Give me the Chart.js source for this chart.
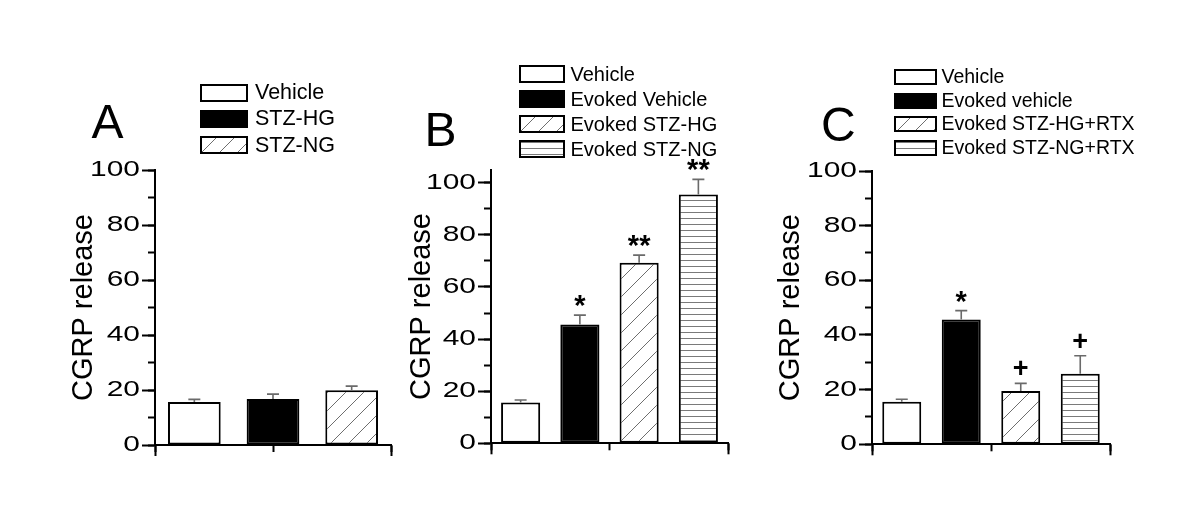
<!DOCTYPE html>
<html><head><meta charset="utf-8">
<script src="https://cdn.jsdelivr.net/npm/chart.js@4.4.1/dist/chart.umd.min.js"></script>
<style>
html,body{margin:0;padding:0;background:#fff;}
#wrap{position:relative;width:1200px;height:523px;overflow:hidden;background:#fff;}
canvas.c{position:absolute;left:0;top:0;}
.letter{position:absolute;font-family:"Liberation Sans",Arial,sans-serif;font-size:48px;line-height:1;color:#000;}
.legtext{position:absolute;font-family:"Liberation Sans",Arial,sans-serif;color:#000;white-space:nowrap;line-height:1;}
.sw{position:absolute;}
</style></head><body><div id="wrap"></div>
<script>
// ---------------- data ----------------
const panelLetters = ['A', 'B', 'C'];
const yAxisTitle = 'CGRP release';

const categoriesA = ['Vehicle', 'STZ-HG', 'STZ-NG'];
const valuesA = [15.6, 16.7, 19.9];
const errorsA = [1.0, 1.8, 1.5];
const marksA = ['', '', ''];

const categoriesB = ['Vehicle', 'Evoked Vehicle', 'Evoked STZ-HG', 'Evoked STZ-NG'];
const valuesB = [15.7, 45.6, 69.3, 95.5];
const errorsB = [0.9, 3.6, 2.9, 5.8];
const marksB = ['', '*', '**', '**'];

const categoriesC = ['Vehicle', 'Evoked vehicle', 'Evoked STZ-HG+RTX', 'Evoked STZ-NG+RTX'];
const valuesC = [15.6, 45.7, 19.5, 25.8];
const errorsC = [0.9, 3.2, 2.8, 6.6];
const marksC = ['', '*', '+', '+'];

// ---------------- styles / layout ----------------
const FILLS = ['white', 'black', 'hatch', 'stripe'];
const FONT = '"Liberation Sans", Arial, sans-serif';

function makeFill(ctx, kind) {
  if (kind === 'white') return '#ffffff';
  if (kind === 'black') return '#000000';
  const c = document.createElement('canvas');
  const g = c.getContext('2d');
  if (kind === 'hatch') {
    const s = 18; c.width = s; c.height = s;
    g.fillStyle = '#fff'; g.fillRect(0, 0, s, s);
    g.strokeStyle = '#6e6e6e'; g.lineWidth = 1;
    g.beginPath();
    g.moveTo(-2, s + 2); g.lineTo(s + 2, -2);
    g.moveTo(-2, 2); g.lineTo(2, -2);
    g.moveTo(s - 2, s + 2); g.lineTo(s + 2, s - 2);
    g.stroke();
  } else {
    c.width = 8; c.height = 6;
    g.fillStyle = '#fff'; g.fillRect(0, 0, 8, 6);
    g.fillStyle = '#7a7a7a'; g.fillRect(0, 2, 8, 1);
  }
  return ctx.createPattern(c, 'repeat');
}

const errPlugin = {
  id: 'err',
  afterDatasetsDraw(chart, args, opts) {
    const ctx = chart.ctx;
    const ys = chart.scales.y;
    ctx.save();
    opts.values.forEach((v, i) => {
      const bar = chart.getDatasetMeta(i).data[i];
      const x = bar.x;
      const y0 = ys.getPixelForValue(v);
      const y1 = ys.getPixelForValue(v + opts.errors[i]);
      ctx.strokeStyle = '#6a6a6a'; ctx.lineWidth = 1.6;
      ctx.beginPath();
      ctx.moveTo(x, y0); ctx.lineTo(x, y1);
      ctx.moveTo(x - 6, y1); ctx.lineTo(x + 6, y1);
      ctx.stroke();
      const m = opts.marks[i];
      if (m) {
        const size = m.indexOf('+') >= 0 ? 27 : 29;
        ctx.font = 'bold ' + size + 'px ' + FONT;
        ctx.fillStyle = '#000'; ctx.textAlign = 'center'; ctx.textBaseline = 'alphabetic';
        const mt = ctx.measureText(m);
        const baseline = y1 - 8 - mt.actualBoundingBoxDescent;
        ctx.fillText(m, x, baseline);
      }
    });
    ctx.restore();
    // widen tick labels (drawn in a later layer) horizontally around their right edge
    const x0 = ys.right - ys.options.grid.tickLength - ys.options.ticks.padding;
    ctx.save();
    ctx.translate(x0, 0); ctx.scale(opts.stretch, 1); ctx.translate(-x0, 0);
  },
  afterDraw(chart) { chart.ctx.restore(); }
};

const wrap = document.getElementById('wrap');

function buildPanel(p) {
  const canvas = document.createElement('canvas');
  canvas.width = 1200; canvas.height = 523; canvas.className = 'c';
  wrap.appendChild(canvas);
  const ctx = canvas.getContext('2d');
  const datasets = p.categories.map((lab, i) => ({
    label: lab,
    data: p.values.map((v, j) => (j === i ? v : null)),
    backgroundColor: makeFill(ctx, FILLS[i]),
    borderColor: '#000', borderWidth: 2, borderSkipped: false,
    barPercentage: p.barPct, categoryPercentage: 1, grouped: false
  }));
  const chart = new Chart(ctx, {
    type: 'bar',
    data: { labels: p.categories, datasets },
    options: {
      responsive: false, animation: false, events: [], devicePixelRatio: 1,
      layout: { padding: p.pad },
      plugins: {
        legend: { display: false }, tooltip: { enabled: false },
        err: { values: p.values, errors: p.errors, marks: p.marks, stretch: 1.36 }
      },
      scales: {
        x: { type: 'category', display: false, offset: true },
        xMajor: {
          type: 'linear', position: 'bottom', min: 0, max: 1, weight: 0,
          afterBuildTicks(s) { s.ticks = [{ value: 0.5 }]; },
          ticks: { display: false },
          grid: { drawOnChartArea: false, tickLength: 11, tickWidth: 2, tickColor: '#000' },
          border: { display: true, color: '#000', width: 2 },
          afterFit(s) { s.height = 0; }
        },
        xEnds: {
          type: 'linear', position: 'bottom', min: 0, max: 1, weight: 1,
          afterBuildTicks(s) { s.ticks = [{ value: 0 }, { value: 1 }]; },
          ticks: { display: false },
          grid: { drawOnChartArea: false, tickLength: 7, tickWidth: 2, tickColor: '#000' },
          border: { display: false },
          afterFit(s) { s.height = 0; }
        },
        y: {
          type: 'linear', position: 'left', weight: 1, min: 0, max: p.yMax,
          ticks: { stepSize: 20, includeBounds: false, font: { family: FONT, size: 22 }, color: '#000', padding: 2, z: 1 },
          grid: { drawOnChartArea: false, tickLength: 13, tickWidth: 2, tickColor: '#000' },
          border: { display: true, color: '#000', width: 2 },
          title: { display: true, text: yAxisTitle, font: { family: FONT, size: 29 }, color: '#000', padding: 0 },
          afterFit(s) { s.width = p.yWidth; }
        },
        yMinor: {
          type: 'linear', position: 'left', weight: 0, min: 0, max: p.yMax,
          ticks: { display: false, stepSize: 10, includeBounds: false },
          grid: { drawOnChartArea: false, tickLength: 7, tickWidth: 2, tickColor: '#000' },
          border: { display: false },
          afterFit(s) { s.width = 0; }
        }
      }
    },
    plugins: [errPlugin]
  });

  // legend (HTML, built from the chart's datasets)
  chart.data.datasets.forEach((ds, i) => {
    const cy = p.leg.cy0 + i * p.leg.dy;
    const sw = document.createElement('canvas');
    sw.className = 'sw'; sw.width = p.leg.w; sw.height = p.leg.h;
    sw.style.left = p.leg.x + 'px'; sw.style.top = (cy - p.leg.h / 2) + 'px';
    const g = sw.getContext('2d');
    g.fillStyle = makeFill(g, FILLS[i]);
    g.fillRect(0, 0, p.leg.w, p.leg.h);
    g.strokeStyle = '#000'; g.lineWidth = 2;
    g.strokeRect(1, 1, p.leg.w - 2, p.leg.h - 2);
    wrap.appendChild(sw);
    const t = document.createElement('div');
    t.className = 'legtext'; t.textContent = ds.label;
    t.style.fontSize = p.leg.font + 'px';
    t.style.left = p.leg.tx + 'px'; t.style.top = (cy - p.leg.font / 2) + 'px';
    wrap.appendChild(t);
  });
  const L = document.createElement('div');
  L.className = 'letter'; L.textContent = p.letter;
  L.style.left = p.letterPos[0] + 'px'; L.style.top = p.letterPos[1] + 'px';
  wrap.appendChild(L);
}

buildPanel({
  letter: panelLetters[0], categories: categoriesA, values: valuesA, errors: errorsA, marks: marksA,
  yMax: 100, barPct: 0.67, yWidth: 88.4,
  pad: { left: 66.6, right: 809, top: 170, bottom: 78 },
  leg: { x: 200, w: 48, h: 18, cy0: 92.5, dy: 26.4, tx: 255, font: 21.5 },
  letterPos: [91.5, 97.7]
});
buildPanel({
  letter: panelLetters[1], categories: categoriesB, values: valuesB, errors: errorsB, marks: marksB,
  yMax: 105, barPct: 0.66, yWidth: 86.4,
  pad: { left: 404.6, right: 472, top: 169.7, bottom: 79.7 },
  leg: { x: 519, w: 46, h: 18, cy0: 74, dy: 25.1, tx: 570.5, font: 20 },
  letterPos: [424.5, 106]
});
buildPanel({
  letter: panelLetters[2], categories: categoriesC, values: valuesC, errors: errorsC, marks: marksC,
  yMax: 100, barPct: 0.655, yWidth: 98.9,
  pad: { left: 773.1, right: 90, top: 171, bottom: 78.7 },
  leg: { x: 894, w: 43, h: 16, cy0: 77, dy: 23.5, tx: 941.5, font: 19.5 },
  letterPos: [821, 100.6]
});
</script></body></html>
